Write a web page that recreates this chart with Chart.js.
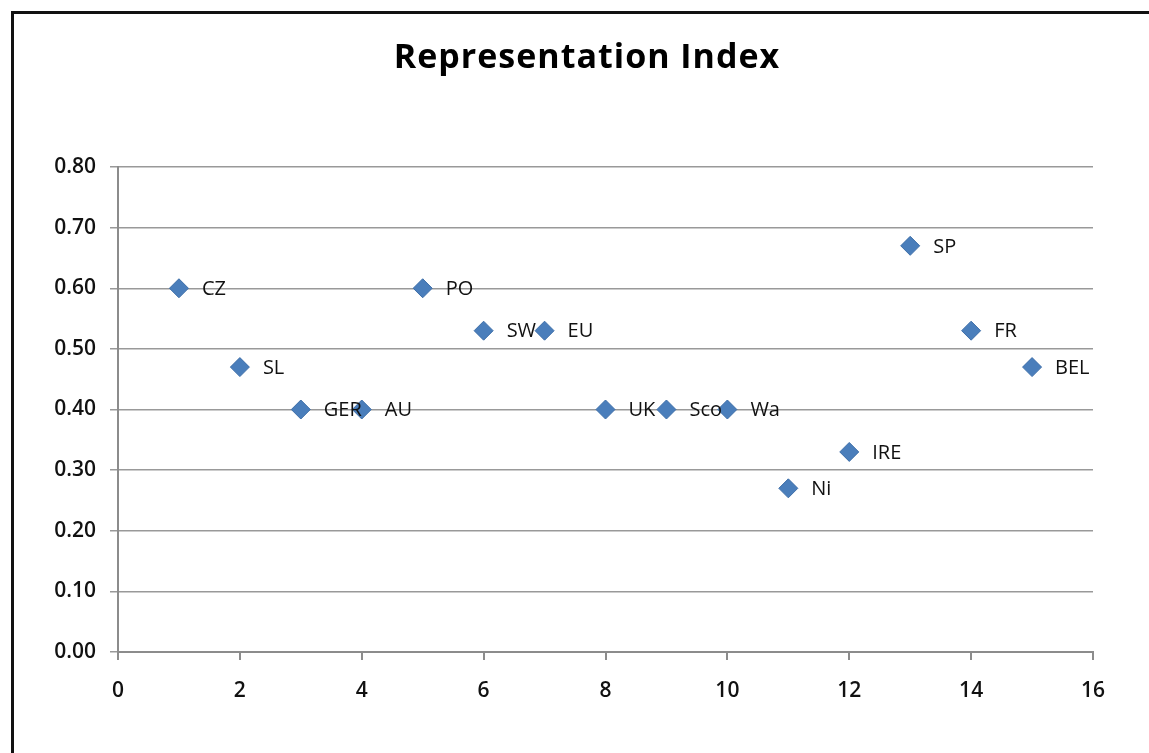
<!DOCTYPE html>
<html lang="en">
<head>
    <meta charset="UTF-8">
    <title>Representation Index</title>
    <style>
        html, body {
            margin: 0;
            padding: 0;
            background: #fff;
            overflow: hidden;
        }

        .wrap {
            position: relative;
            width: 1149px;
            height: 753px;
        }

        /* the frame only shows on the left and top, the rest runs off the picture */
        .frame {
            position: absolute;
            left: 11px;
            top: 11px;
            width: 1200px;
            height: 800px;
            border-left: 3px solid #111;
            border-top: 3px solid #111;
            pointer-events: none;
        }

        canvas {
            position: absolute;
            left: 0;
            top: 0;
        }
    </style>
    <script src="https://cdn.jsdelivr.net/npm/chart.js"></script>
</head>
<body>
<div class="wrap">
    <canvas id="chart" width="1149" height="753"></canvas>
    <div class="frame"></div>
</div>

<script>
    const countries = ['CZ', 'SL', 'GER', 'AU', 'PO', 'SW', 'EU', 'UK', 'Sco', 'Wa', 'Ni', 'IRE', 'SP', 'FR', 'BEL'];
    const positions = [1, 2, 3, 4, 5, 6, 7, 8, 9, 10, 11, 12, 13, 14, 15];
    const indexValues = [0.60, 0.47, 0.40, 0.40, 0.60, 0.53, 0.53, 0.40, 0.40, 0.40, 0.27, 0.33, 0.67, 0.53, 0.47];
    const xTicks = [0, 2, 4, 6, 8, 10, 12, 14, 16];
    const yTicks = [0, 0.1, 0.2, 0.3, 0.4, 0.5, 0.6, 0.7, 0.8];
    const chartTitle = 'Representation Index';

    const fontFamily = '"Open Sans", Lato, sans-serif';

    // title sits a bit right of the canvas centre, so it is drawn by hand
    const titleText = {
        id: 'titleText',
        afterDraw(chart) {
            const ctx = chart.ctx;
            ctx.save();
            ctx.font = 'bold 34px ' + fontFamily;
            ctx.letterSpacing = '1px';
            ctx.fillStyle = '#000';
            ctx.textAlign = 'center';
            ctx.textBaseline = 'alphabetic';
            ctx.fillText(chartTitle, 587, 68);
            ctx.restore();
        }
    };

    // writes the country name to the right of each diamond
    const pointLabels = {
        id: 'pointLabels',
        afterDatasetsDraw(chart) {
            const ctx = chart.ctx;
            const meta = chart.getDatasetMeta(0);
            ctx.save();
            ctx.font = '20px ' + fontFamily;
            ctx.fillStyle = '#111';
            ctx.textAlign = 'left';
            ctx.textBaseline = 'middle';
            meta.data.forEach((pt, i) => {
                ctx.fillText(countries[i], pt.x + 23, pt.y + 1);
            });
            ctx.restore();
        }
    };

    new Chart(document.getElementById('chart'), {
        type: 'scatter',
        data: {
            datasets: [{
                data: positions.map((x, i) => ({x: x, y: indexValues[i]})),
                pointStyle: 'rectRot',
                pointRadius: 9.5,
                pointHoverRadius: 9.5,
                backgroundColor: '#4a7ebb',
                borderColor: '#3d6ea8',
                borderWidth: 1
            }]
        },
        options: {
            responsive: false,
            animation: false,
            layout: {
                padding: {left: 0, right: 56, top: 167, bottom: 0}
            },
            plugins: {
                legend: {display: false},
                tooltip: {enabled: false},
                title: {display: false}
            },
            scales: {
                x: {
                    type: 'linear',
                    min: 0,
                    max: 16,
                    afterBuildTicks: axis => {
                        axis.ticks = xTicks.map(v => ({value: v}));
                    },
                    afterFit: axis => {
                        axis.height = 101;
                    },
                    border: {color: '#8c8c8c', width: 2},
                    grid: {
                        drawOnChartArea: false,
                        drawTicks: true,
                        tickLength: 8,
                        color: '#8c8c8c',
                        lineWidth: 2
                    },
                    ticks: {
                        color: '#111',
                        padding: 18,
                        maxRotation: 0,
                        font: {family: fontFamily, size: 21, weight: '600'}
                    }
                },
                y: {
                    type: 'linear',
                    min: 0,
                    max: 0.8,
                    afterBuildTicks: axis => {
                        axis.ticks = yTicks.map(v => ({value: v}));
                    },
                    afterFit: axis => {
                        axis.width = 118;
                    },
                    border: {color: '#8c8c8c', width: 2},
                    grid: {
                        color: '#999',
                        lineWidth: 1.5,
                        tickLength: 8
                    },
                    ticks: {
                        color: '#111',
                        padding: 14,
                        font: {family: fontFamily, size: 21, weight: '600'},
                        callback: v => v.toFixed(2)
                    }
                }
            }
        },
        plugins: [pointLabels, titleText]
    });
</script>
</body>
</html>
